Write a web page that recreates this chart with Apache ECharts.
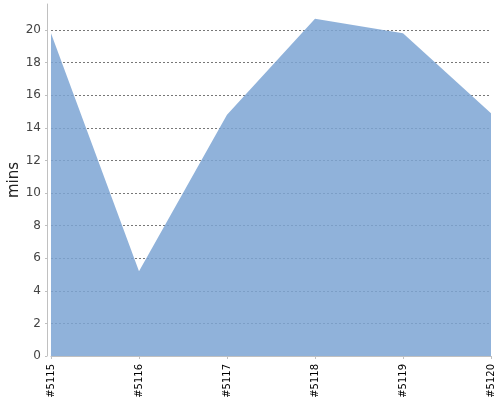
<!DOCTYPE html>
<html>
<head>
<meta charset="utf-8">
<script src="https://cdn.jsdelivr.net/npm/echarts@6/dist/echarts.min.js"></script>
<style>html,body{margin:0;padding:0;background:#fff}#c{width:500px;height:400px}</style>
</head>
<body>
<div id="c"></div>
<script>
const categories = ['#5115', '#5116', '#5117', '#5118', '#5119', '#5120'];
const minutes = [19.8, 5.2, 14.8, 20.7, 19.8, 14.9];
const yTicks = [0, 2, 4, 6, 8, 10, 12, 14, 16, 18, 20];

const chart = echarts.init(document.getElementById('c'), null, {renderer: 'canvas'});
chart.setOption({
  animation: false,
  backgroundColor: '#fff',
  textStyle: {fontFamily: 'DejaVu Sans'},
  grid: {left: 51, right: 9, top: 4, bottom: 44, containLabel: false, outerBoundsMode: 'none'},
  xAxis: {
    type: 'category',
    data: categories,
    boundaryGap: false,
    offset: 4,
    axisLine: {lineStyle: {color: '#c0c0c0', width: 1}},
    axisTick: {alignWithLabel: true, length: 3, lineStyle: {color: '#c0c0c0'}},
    axisLabel: {rotate: 90, color: '#000', fontSize: 10, margin: 4, fontFamily: 'DejaVu Sans'},
    splitLine: {show: false}
  },
  yAxis: {
    type: 'value',
    min: 0,
    max: 21.6,
    interval: 2,
    offset: 4,
    name: 'mins',
    nameLocation: 'middle',
    nameGap: 25,
    nameMoveOverlap: false,
    nameTextStyle: {fontSize: 15, color: '#222', fontFamily: 'DejaVu Sans'},
    axisLine: {show: true, lineStyle: {color: '#c0c0c0', width: 1}},
    axisTick: {show: true, length: 2, lineStyle: {color: '#c0c0c0'}},
    axisLabel: {
      color: '#444', fontSize: 12, margin: 6, fontFamily: 'DejaVu Sans', showMaxLabel: false,
      formatter: v => (yTicks.indexOf(v) >= 0 ? String(v) : '')
    },
    splitLine: {show: true, showMaxLine: false, lineStyle: {color: '#777', type: [2, 2], width: 1}}
  },
  series: [{
    type: 'line',
    data: minutes,
    symbol: 'none',
    lineStyle: {width: 0, opacity: 0},
    areaStyle: {color: 'rgb(124,164,211)', opacity: 0.85}
  }]
});
</script>
</body>
</html>
